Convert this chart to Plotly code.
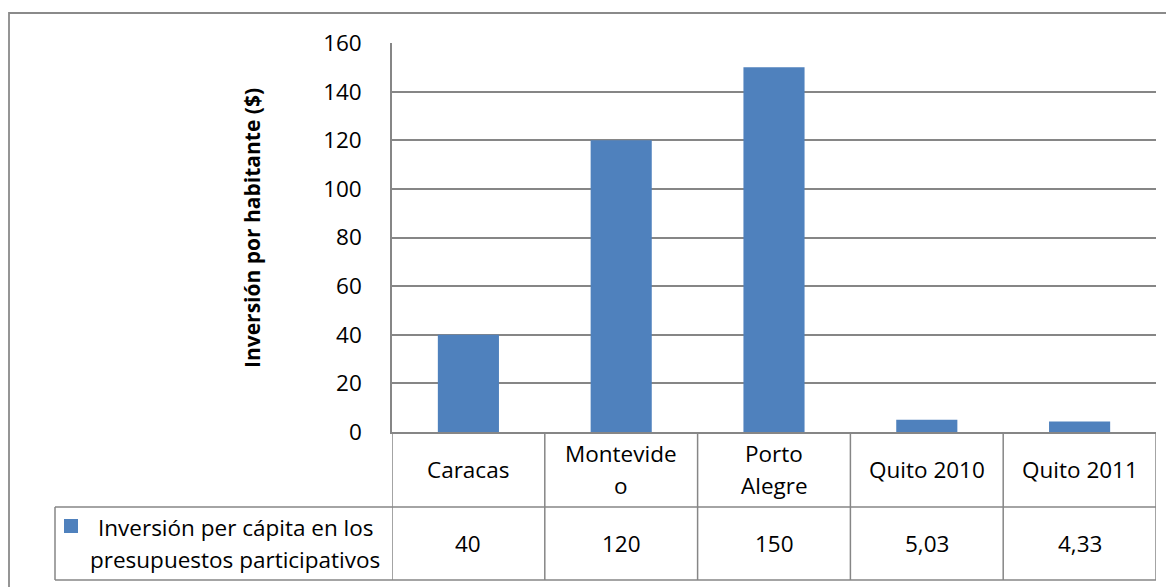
import plotly.graph_objects as go

# ---- data ----
categories = ["Caracas", "Montevideo", "Porto Alegre", "Quito 2010", "Quito 2011"]
header_labels = ["Caracas", "Montevide<br>o", "Porto<br>Alegre", "Quito 2010", "Quito 2011"]
values = [40, 120, 150, 5.03, 4.33]
series_name = "Inversión per cápita en los<br>presupuestos participativos"
y_title = "Inversión por habitante ($)"
y_ticks = [0, 20, 40, 60, 80, 100, 120, 140, 160]

# ---- geometry (pixels, in page coordinates; page body has 8px margin) ----
OFF = 8
W, H = 1174, 587
L, R, T, B = 392, 1156, 43, 432
ROW1_B, ROW2_B = 507, 580
LEG_L = 55
FONT = "Open Sans"
FS = 22.5
GRID = "#868686"
BAR = "#4F81BD"

Lf, Rf, Tf, Bf = L - OFF, R - OFF, T - OFF, B - OFF


def px(x):
    return (x - OFF - Lf) / (Rf - Lf)


def py(y):
    return (Bf - (y - OFF)) / (Bf - Tf)


def fmt(v):
    s = f"{v:g}"
    return s.replace(".", ",")


fig = go.Figure()
fig.add_trace(go.Bar(
    x=list(range(len(categories))), y=values, width=0.4,
    marker=dict(color=BAR, line=dict(width=0)),
    name=series_name.replace("<br>", " "), showlegend=False,
    hovertext=categories,
))

shapes = []
line = dict(color=GRID, width=1.5)
# outer chart border
shapes.append(dict(type="rect", xref="paper", yref="paper",
                   x0=px(9), x1=px(1230), y0=py(13), y1=py(640),
                   line=dict(color="#8a8a8a", width=1.8), layer="below"))
# table horizontal lines
for yy in (ROW1_B, ROW2_B):
    shapes.append(dict(type="line", xref="paper", yref="paper",
                       x0=px(LEG_L), x1=1, y0=py(yy), y1=py(yy), line=line))
# column separators
n = len(categories)
for i in range(n + 1):
    shapes.append(dict(type="line", xref="x", yref="paper",
                       x0=i - 0.5, x1=i - 0.5, y0=0, y1=py(ROW2_B), line=line))
# legend cell left border
shapes.append(dict(type="line", xref="paper", yref="paper",
                   x0=px(LEG_L), x1=px(LEG_L), y0=py(ROW1_B), y1=py(ROW2_B), line=line))
# legend key square
shapes.append(dict(type="rect", xref="paper", yref="paper",
                   x0=px(64), x1=px(78), y0=py(519), y1=py(533),
                   fillcolor=BAR, line=dict(width=0)))

annotations = []
LS = 32  # line spacing px


def add_lines(text, xref, x, yc):
    parts = text.split("<br>")
    k = len(parts)
    for j, p in enumerate(parts):
        y = yc + (j - (k - 1) / 2) * LS
        annotations.append(dict(text=p, xref=xref, yref="paper", x=x, y=py(y),
                                showarrow=False, xanchor="center", yanchor="middle",
                                font=dict(family=FONT, size=FS, color="black")))


for i, lab in enumerate(header_labels):
    add_lines(lab, "x", i, (B + ROW1_B) / 2)
for i, v in enumerate(values):
    add_lines(fmt(v), "x", i, (ROW1_B + ROW2_B) / 2)
add_lines(series_name, "paper", px(235), (ROW1_B + ROW2_B) / 2)

annotations.append(dict(text="<b>" + y_title + "</b>", xref="paper", yref="paper",
                        x=px(252), y=py(228), textangle=-90, showarrow=False,
                        xanchor="center", yanchor="middle",
                        font=dict(family=FONT, size=21, color="black")))

fig.update_layout(
    width=W, height=H,
    margin=dict(l=Lf, r=W - Rf, t=Tf, b=H - Bf, pad=0),
    paper_bgcolor="white", plot_bgcolor="white",
    shapes=shapes, annotations=annotations,
    bargap=0.6,
    xaxis=dict(range=[-0.5, n - 0.5], showticklabels=False, showgrid=False,
               zeroline=False, showline=True, linecolor=GRID, linewidth=1.5,
               fixedrange=True),
    yaxis=dict(range=[0, 160], tickvals=y_ticks, showgrid=True, gridcolor=GRID,
               gridwidth=1.5, zeroline=False, showline=True, linecolor=GRID,
               linewidth=1.5, ticks="", ticklabelstandoff=24,
               tickfont=dict(family=FONT, size=FS, color="black"), fixedrange=True),
)

fig.write_html("out.html")
